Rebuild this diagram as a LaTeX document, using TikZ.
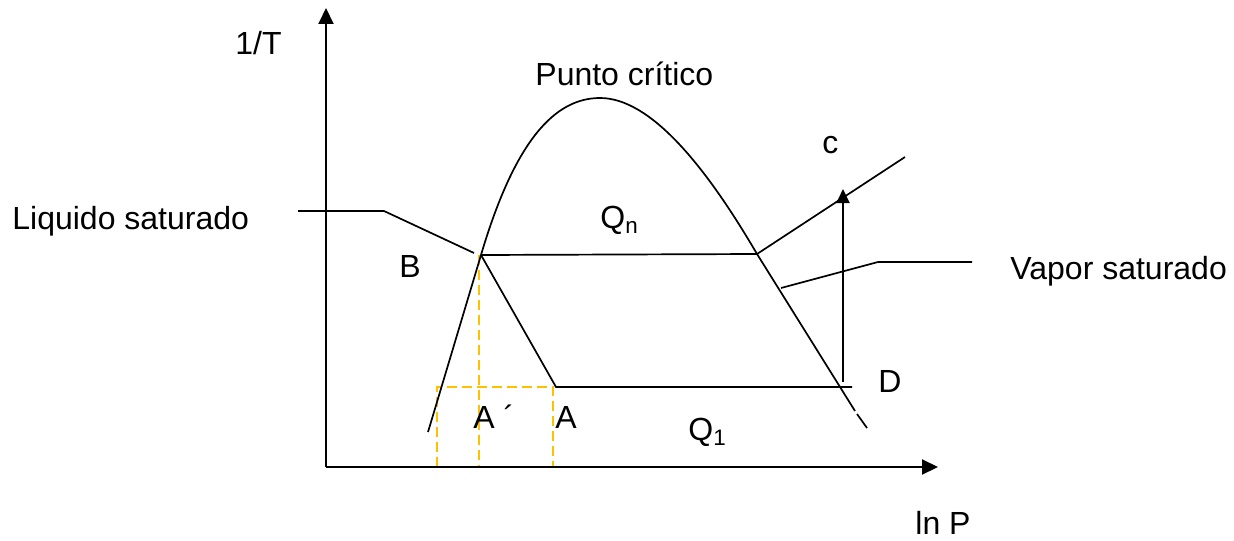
\documentclass[tikz,border=0pt]{standalone}
\usepackage{fontspec}
\setmainfont{Liberation Sans}
\usetikzlibrary{arrows.meta}
\definecolor{gold}{HTML}{FFC000}
\begin{document}
\begin{tikzpicture}[x=0.5pt,y=-0.5pt,
  lbl/.style={inner sep=0pt, anchor=base west, font=\fontsize{16}{19}\selectfont},
  curve/.style={line width=0.85pt},
  axis/.style={line width=1pt, -{Triangle[length=8pt,width=7.5pt]}},
  varrow/.style={line width=1pt, -{Triangle[length=7pt,width=6.5pt]}},
  gdash/.style={gold, line width=1.1pt, dash pattern=on 5pt off 2.5pt}]
\useasboundingbox (0,0) rectangle (1234,540);
% key points
\coordinate (O) at (326,467);
\coordinate (Ytip) at (326,8);
\coordinate (Xtip) at (938,467);
\coordinate (L0) at (428,432);
\coordinate (L1) at (481,255);
\coordinate (Pk) at (600,98);
\coordinate (R1) at (757,254);
\coordinate (R2) at (855,411);
\coordinate (R3) at (857,414);
\coordinate (R4) at (867,428);
\coordinate (C1) at (905,157);
\coordinate (LiqA) at (298,211);
\coordinate (LiqB) at (384,211);
\coordinate (LiqC) at (474,253);
\coordinate (Apt) at (556,387);
\coordinate (Dpt) at (852,387);
\coordinate (Vb) at (843,382);
\coordinate (Vt) at (843,189);
\coordinate (VapA) at (781,288);
\coordinate (VapB) at (878,262);
\coordinate (VapC) at (972,262);
\coordinate (G1) at (437,467);
\coordinate (G2) at (437,387);
\coordinate (G3) at (553,387);
\coordinate (G4) at (553,467);
\coordinate (G5) at (479,255);
\coordinate (G6) at (479,467);
% dashed guides
\draw[gdash] (G1) -- (G2) -- (G3) -- (G4);
\draw[gdash] (G5) -- (G6);
% axes
\draw[axis] (O) -- (Ytip);
\draw[axis] (O) -- (Xtip);
% dome
\draw[curve] (L0) -- (L1) .. controls (515,140) and (555,98) .. (Pk)
  .. controls (650,98) and (705,165) .. (R1) -- (R2);
\draw[curve] (R3) -- (R4);
% process lines
\draw[curve] (L1) -- (R1) -- (C1);
\draw[curve] (L1) -- (Apt) -- (Dpt);
\draw[curve] (LiqA) -- (LiqB) -- (LiqC);
\draw[curve] (VapA) -- (VapB) -- (VapC);
\draw[varrow] (Vb) -- (Vt);
% labels
\node[lbl] (t1) at (235,55) {1/T};
\node[lbl] (t2) at (535,85) {Punto crítico};
\node[lbl] (t3) at (12,229) {Liquido saturado};
\node[lbl] (t4) at (399,277) {B};
\node[lbl] (t5) at (600,228) {Q\textsubscript{n}};
\node[lbl] (t6) at (822,153) {c};
\node[lbl] (t7) at (1010,279) {Vapor saturado};
\node[lbl] (t8) at (878,392) {D};
\node[lbl] (t9) at (473,428) {A ´};
\node[lbl] (t10) at (555,428) {A};
\node[lbl] (t11) at (688,440) {Q\textsubscript{1}};
\node[lbl] (t12) at (915,534) {ln P};
\end{tikzpicture}
\end{document}
